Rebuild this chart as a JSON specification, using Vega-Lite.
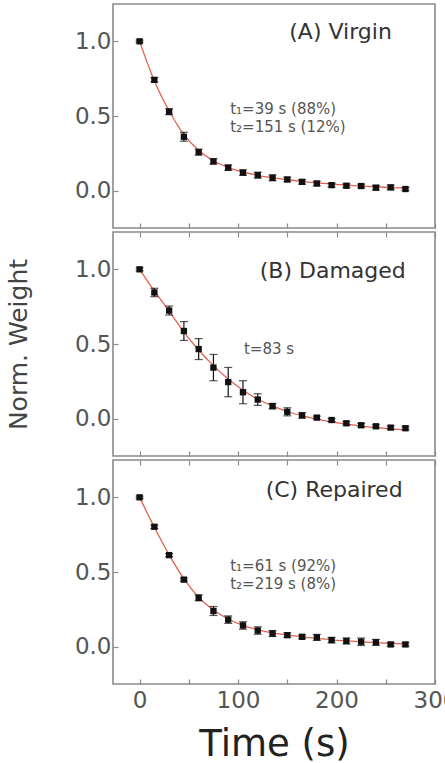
{
  "$schema": "https://vega.github.io/schema/vega-lite/v6.json",
  "background": "white",
  "padding": {"left": 5, "top": 3, "right": 10, "bottom": 0},
  "spacing": 0,
  "datasets": {
    "pts": [
      {"panel": "A", "t": 0, "w": 1.0, "lo": 0.992, "hi": 1.008},
      {"panel": "A", "t": 15, "w": 0.742, "lo": 0.727, "hi": 0.757},
      {"panel": "A", "t": 30, "w": 0.529, "lo": 0.509, "hi": 0.549},
      {"panel": "A", "t": 45, "w": 0.361, "lo": 0.331, "hi": 0.391},
      {"panel": "A", "t": 60, "w": 0.258, "lo": 0.238, "hi": 0.278},
      {"panel": "A", "t": 75, "w": 0.196, "lo": 0.178, "hi": 0.214},
      {"panel": "A", "t": 90, "w": 0.154, "lo": 0.136, "hi": 0.172},
      {"panel": "A", "t": 105, "w": 0.121, "lo": 0.103, "hi": 0.139},
      {"panel": "A", "t": 120, "w": 0.104, "lo": 0.084, "hi": 0.124},
      {"panel": "A", "t": 135, "w": 0.086, "lo": 0.066, "hi": 0.106},
      {"panel": "A", "t": 150, "w": 0.075, "lo": 0.06, "hi": 0.09},
      {"panel": "A", "t": 165, "w": 0.059, "lo": 0.044, "hi": 0.074},
      {"panel": "A", "t": 180, "w": 0.048, "lo": 0.033, "hi": 0.063},
      {"panel": "A", "t": 195, "w": 0.037, "lo": 0.025, "hi": 0.049},
      {"panel": "A", "t": 210, "w": 0.033, "lo": 0.021, "hi": 0.045},
      {"panel": "A", "t": 225, "w": 0.031, "lo": 0.019, "hi": 0.043},
      {"panel": "A", "t": 240, "w": 0.02, "lo": 0.005, "hi": 0.035},
      {"panel": "A", "t": 255, "w": 0.022, "lo": 0.007, "hi": 0.037},
      {"panel": "A", "t": 270, "w": 0.011, "lo": 0.001, "hi": 0.021},
      {"panel": "B", "t": 0, "w": 1.0, "lo": 0.99, "hi": 1.01},
      {"panel": "B", "t": 15, "w": 0.845, "lo": 0.817, "hi": 0.873},
      {"panel": "B", "t": 30, "w": 0.724, "lo": 0.694, "hi": 0.754},
      {"panel": "B", "t": 45, "w": 0.587, "lo": 0.524, "hi": 0.65},
      {"panel": "B", "t": 60, "w": 0.466, "lo": 0.396, "hi": 0.536},
      {"panel": "B", "t": 75, "w": 0.342, "lo": 0.254, "hi": 0.43},
      {"panel": "B", "t": 90, "w": 0.245, "lo": 0.147, "hi": 0.343},
      {"panel": "B", "t": 105, "w": 0.177, "lo": 0.1, "hi": 0.254},
      {"panel": "B", "t": 120, "w": 0.128, "lo": 0.089, "hi": 0.167},
      {"panel": "B", "t": 135, "w": 0.084, "lo": 0.066, "hi": 0.102},
      {"panel": "B", "t": 150, "w": 0.046, "lo": 0.019, "hi": 0.073},
      {"panel": "B", "t": 165, "w": 0.022, "lo": 0.004, "hi": 0.04},
      {"panel": "B", "t": 180, "w": 0.007, "lo": -0.003, "hi": 0.017},
      {"panel": "B", "t": 195, "w": -0.009, "lo": -0.019, "hi": 0.001},
      {"panel": "B", "t": 210, "w": -0.031, "lo": -0.043, "hi": -0.019},
      {"panel": "B", "t": 225, "w": -0.044, "lo": -0.056, "hi": -0.032},
      {"panel": "B", "t": 240, "w": -0.051, "lo": -0.061, "hi": -0.041},
      {"panel": "B", "t": 255, "w": -0.06, "lo": -0.072, "hi": -0.048},
      {"panel": "B", "t": 270, "w": -0.064, "lo": -0.074, "hi": -0.054},
      {"panel": "C", "t": 0, "w": 1.0, "lo": 0.992, "hi": 1.008},
      {"panel": "C", "t": 15, "w": 0.803, "lo": 0.791, "hi": 0.815},
      {"panel": "C", "t": 30, "w": 0.613, "lo": 0.603, "hi": 0.623},
      {"panel": "C", "t": 45, "w": 0.449, "lo": 0.439, "hi": 0.459},
      {"panel": "C", "t": 60, "w": 0.327, "lo": 0.307, "hi": 0.347},
      {"panel": "C", "t": 75, "w": 0.239, "lo": 0.209, "hi": 0.269},
      {"panel": "C", "t": 90, "w": 0.181, "lo": 0.156, "hi": 0.206},
      {"panel": "C", "t": 105, "w": 0.142, "lo": 0.117, "hi": 0.167},
      {"panel": "C", "t": 120, "w": 0.108, "lo": 0.083, "hi": 0.133},
      {"panel": "C", "t": 135, "w": 0.088, "lo": 0.068, "hi": 0.108},
      {"panel": "C", "t": 150, "w": 0.077, "lo": 0.062, "hi": 0.092},
      {"panel": "C", "t": 165, "w": 0.066, "lo": 0.054, "hi": 0.078},
      {"panel": "C", "t": 180, "w": 0.062, "lo": 0.042, "hi": 0.082},
      {"panel": "C", "t": 195, "w": 0.044, "lo": 0.026, "hi": 0.062},
      {"panel": "C", "t": 210, "w": 0.038, "lo": 0.018, "hi": 0.058},
      {"panel": "C", "t": 225, "w": 0.033, "lo": 0.008, "hi": 0.058},
      {"panel": "C", "t": 240, "w": 0.029, "lo": 0.009, "hi": 0.049},
      {"panel": "C", "t": 255, "w": 0.015, "lo": 0.003, "hi": 0.027},
      {"panel": "C", "t": 270, "w": 0.015, "lo": 0.003, "hi": 0.027}
    ],
    "fit": [
      {"panel": "A", "t": 0, "w": 1.0}, {"panel": "A", "t": 15, "w": 0.735}, {"panel": "A", "t": 30, "w": 0.535},
      {"panel": "A", "t": 45, "w": 0.375}, {"panel": "A", "t": 60, "w": 0.27}, {"panel": "A", "t": 75, "w": 0.2},
      {"panel": "A", "t": 90, "w": 0.155}, {"panel": "A", "t": 105, "w": 0.125}, {"panel": "A", "t": 120, "w": 0.103},
      {"panel": "A", "t": 135, "w": 0.087}, {"panel": "A", "t": 150, "w": 0.073}, {"panel": "A", "t": 165, "w": 0.062},
      {"panel": "A", "t": 180, "w": 0.052}, {"panel": "A", "t": 195, "w": 0.044}, {"panel": "A", "t": 210, "w": 0.037},
      {"panel": "A", "t": 225, "w": 0.031}, {"panel": "A", "t": 240, "w": 0.026}, {"panel": "A", "t": 255, "w": 0.021},
      {"panel": "A", "t": 270, "w": 0.017},
      {"panel": "B", "t": 0, "w": 1.0}, {"panel": "B", "t": 15, "w": 0.855}, {"panel": "B", "t": 30, "w": 0.72},
      {"panel": "B", "t": 45, "w": 0.58}, {"panel": "B", "t": 60, "w": 0.46}, {"panel": "B", "t": 75, "w": 0.355},
      {"panel": "B", "t": 90, "w": 0.265}, {"panel": "B", "t": 105, "w": 0.19}, {"panel": "B", "t": 120, "w": 0.13},
      {"panel": "B", "t": 135, "w": 0.085}, {"panel": "B", "t": 150, "w": 0.048}, {"panel": "B", "t": 165, "w": 0.02},
      {"panel": "B", "t": 180, "w": -0.003}, {"panel": "B", "t": 195, "w": -0.022}, {"panel": "B", "t": 210, "w": -0.037},
      {"panel": "B", "t": 225, "w": -0.05}, {"panel": "B", "t": 240, "w": -0.06}, {"panel": "B", "t": 255, "w": -0.068},
      {"panel": "B", "t": 270, "w": -0.075},
      {"panel": "C", "t": 0, "w": 1.0}, {"panel": "C", "t": 15, "w": 0.8}, {"panel": "C", "t": 30, "w": 0.615},
      {"panel": "C", "t": 45, "w": 0.455}, {"panel": "C", "t": 60, "w": 0.33}, {"panel": "C", "t": 75, "w": 0.245},
      {"panel": "C", "t": 90, "w": 0.185}, {"panel": "C", "t": 105, "w": 0.143}, {"panel": "C", "t": 120, "w": 0.113},
      {"panel": "C", "t": 135, "w": 0.092}, {"panel": "C", "t": 150, "w": 0.077}, {"panel": "C", "t": 165, "w": 0.065},
      {"panel": "C", "t": 180, "w": 0.055}, {"panel": "C", "t": 195, "w": 0.046}, {"panel": "C", "t": 210, "w": 0.039},
      {"panel": "C", "t": 225, "w": 0.033}, {"panel": "C", "t": 240, "w": 0.027}, {"panel": "C", "t": 255, "w": 0.022},
      {"panel": "C", "t": 270, "w": 0.018}
    ],
    "heads": [
      {"panel": "A", "x": 152, "y": 1.064, "text": "(A) Virgin"},
      {"panel": "B", "x": 122, "y": 0.99, "text": "(B) Damaged"},
      {"panel": "C", "x": 128, "y": 1.05, "text": "(C) Repaired"}
    ],
    "notes": [
      {"panel": "A", "x": 92, "y": 0.544, "text": "t₁=39  s (88%)"},
      {"panel": "A", "x": 92, "y": 0.423, "text": "t₂=151  s (12%)"},
      {"panel": "B", "x": 106, "y": 0.465, "text": "t=83  s"},
      {"panel": "C", "x": 92, "y": 0.54, "text": "t₁=61  s (92%)"},
      {"panel": "C", "x": 92, "y": 0.42, "text": "t₂=219  s (8%)"}
    ]
  },
  "vconcat": [
    {
      "width": 322,
      "height": 224,
      "resolve": {"axis": {"x": "independent"}},
      "layer": [
        {
          "data": {"name": "fit"},
          "transform": [{"filter": "datum.panel === 'A'"}],
          "mark": {"type": "line", "color": "#e4604f", "strokeWidth": 1.3, "interpolate": "monotone"},
          "encoding": {
            "x": {"field": "t", "type": "quantitative", "scale": {"domain": [-27, 300], "nice": false, "zero": false},
                  "axis": {"orient": "bottom", "values": [0, 50, 100, 150, 200, 250, 300], "labels": false, "title": null}},
            "y": {"field": "w", "type": "quantitative", "scale": {"domain": [-0.25, 1.25], "nice": false, "zero": false}, "title": null,
                  "axis": {"values": [0, 0.5, 1], "format": ".1f", "labelPadding": 7}}
          }
        },
        {
          "data": {"name": "pts"},
          "transform": [{"filter": "datum.panel === 'A'"}],
          "mark": {"type": "errorbar", "ticks": {"size": 8, "thickness": 1.2}, "color": "#111", "thickness": 1.2},
          "encoding": {
            "x": {"field": "t", "type": "quantitative", "axis": null},
            "y": {"field": "lo", "type": "quantitative", "title": null},
            "y2": {"field": "hi"}
          }
        },
        {
          "data": {"name": "pts"},
          "transform": [{"filter": "datum.panel === 'A'"}],
          "mark": {"type": "point", "shape": "square", "filled": true, "size": 40, "color": "#111", "opacity": 1},
          "encoding": {
            "x": {"field": "t", "type": "quantitative", "axis": null},
            "y": {"field": "w", "type": "quantitative", "title": null}
          }
        },
        {
          "data": {"name": "heads"},
          "transform": [{"filter": "datum.panel === 'A'"}],
          "mark": {"type": "text", "align": "left", "baseline": "middle", "fontSize": 22, "color": "#333"},
          "encoding": {
            "x": {"field": "x", "type": "quantitative", "axis": null},
            "y": {"field": "y", "type": "quantitative", "title": null},
            "text": {"field": "text"}
          }
        },
        {
          "data": {"name": "notes"},
          "transform": [{"filter": "datum.panel === 'A'"}],
          "mark": {"type": "text", "align": "left", "baseline": "middle", "fontSize": 15, "color": "#555"},
          "encoding": {
            "x": {"field": "x", "type": "quantitative", "axis": null},
            "y": {"field": "y", "type": "quantitative", "title": null},
            "text": {"field": "text"}
          }
        }
      ]
    },
    {
      "width": 322,
      "height": 224,
      "resolve": {"axis": {"x": "independent"}},
      "layer": [
        {
          "data": {"name": "fit"},
          "transform": [{"filter": "datum.panel === 'B'"}],
          "mark": {"type": "line", "color": "#e4604f", "strokeWidth": 1.3, "interpolate": "monotone"},
          "encoding": {
            "x": {"field": "t", "type": "quantitative", "scale": {"domain": [-27, 300], "nice": false, "zero": false},
                  "axis": {"orient": "bottom", "values": [0, 50, 100, 150, 200, 250, 300], "labels": false, "title": null}},
            "y": {"field": "w", "type": "quantitative", "scale": {"domain": [-0.25, 1.25], "nice": false, "zero": false}, "title": "Norm. Weight",
                  "axis": {"values": [0, 0.5, 1], "format": ".1f", "labelPadding": 7, "titlePadding": 43}}
          }
        },
        {
          "data": {"name": "pts"},
          "transform": [{"filter": "datum.panel === 'B'"}],
          "mark": {"type": "errorbar", "ticks": {"size": 8, "thickness": 1.2}, "color": "#111", "thickness": 1.2},
          "encoding": {
            "x": {"field": "t", "type": "quantitative", "axis": null},
            "y": {"field": "lo", "type": "quantitative", "title": "Norm. Weight"},
            "y2": {"field": "hi"}
          }
        },
        {
          "data": {"name": "pts"},
          "transform": [{"filter": "datum.panel === 'B'"}],
          "mark": {"type": "point", "shape": "square", "filled": true, "size": 40, "color": "#111", "opacity": 1},
          "encoding": {
            "x": {"field": "t", "type": "quantitative", "axis": null},
            "y": {"field": "w", "type": "quantitative", "title": "Norm. Weight"}
          }
        },
        {
          "data": {"name": "heads"},
          "transform": [{"filter": "datum.panel === 'B'"}],
          "mark": {"type": "text", "align": "left", "baseline": "middle", "fontSize": 22, "color": "#333"},
          "encoding": {
            "x": {"field": "x", "type": "quantitative",
                  "axis": {"orient": "top", "values": [0, 50, 100, 150, 200, 250, 300], "labels": false, "title": null}},
            "y": {"field": "y", "type": "quantitative", "title": "Norm. Weight"},
            "text": {"field": "text"}
          }
        },
        {
          "data": {"name": "notes"},
          "transform": [{"filter": "datum.panel === 'B'"}],
          "mark": {"type": "text", "align": "left", "baseline": "middle", "fontSize": 15, "color": "#555"},
          "encoding": {
            "x": {"field": "x", "type": "quantitative", "axis": null},
            "y": {"field": "y", "type": "quantitative", "title": "Norm. Weight"},
            "text": {"field": "text"}
          }
        }
      ]
    },
    {
      "width": 322,
      "height": 224,
      "resolve": {"axis": {"x": "independent"}},
      "layer": [
        {
          "data": {"name": "fit"},
          "transform": [{"filter": "datum.panel === 'C'"}],
          "mark": {"type": "line", "color": "#e4604f", "strokeWidth": 1.3, "interpolate": "monotone"},
          "encoding": {
            "x": {"field": "t", "type": "quantitative", "scale": {"domain": [-27, 300], "nice": false, "zero": false},
                  "axis": {"orient": "bottom", "values": [0, 50, 100, 150, 200, 250, 300],
                           "labelExpr": "datum.value % 100 === 0 ? datum.label : ''", "labelFlush": false, "labelPadding": 10,
                           "title": "Time (s)", "titleFontSize": 37, "titleColor": "#222", "titlePadding": 14}},
            "y": {"field": "w", "type": "quantitative", "scale": {"domain": [-0.25, 1.25], "nice": false, "zero": false}, "title": null,
                  "axis": {"values": [0, 0.5, 1], "format": ".1f", "labelPadding": 7}}
          }
        },
        {
          "data": {"name": "pts"},
          "transform": [{"filter": "datum.panel === 'C'"}],
          "mark": {"type": "errorbar", "ticks": {"size": 8, "thickness": 1.2}, "color": "#111", "thickness": 1.2},
          "encoding": {
            "x": {"field": "t", "type": "quantitative", "axis": null},
            "y": {"field": "lo", "type": "quantitative", "title": null},
            "y2": {"field": "hi"}
          }
        },
        {
          "data": {"name": "pts"},
          "transform": [{"filter": "datum.panel === 'C'"}],
          "mark": {"type": "point", "shape": "square", "filled": true, "size": 40, "color": "#111", "opacity": 1},
          "encoding": {
            "x": {"field": "t", "type": "quantitative", "axis": null},
            "y": {"field": "w", "type": "quantitative", "title": null}
          }
        },
        {
          "data": {"name": "heads"},
          "transform": [{"filter": "datum.panel === 'C'"}],
          "mark": {"type": "text", "align": "left", "baseline": "middle", "fontSize": 22, "color": "#333"},
          "encoding": {
            "x": {"field": "x", "type": "quantitative",
                  "axis": {"orient": "top", "values": [0, 50, 100, 150, 200, 250, 300], "labels": false, "title": null}},
            "y": {"field": "y", "type": "quantitative", "title": null},
            "text": {"field": "text"}
          }
        },
        {
          "data": {"name": "notes"},
          "transform": [{"filter": "datum.panel === 'C'"}],
          "mark": {"type": "text", "align": "left", "baseline": "middle", "fontSize": 15, "color": "#555"},
          "encoding": {
            "x": {"field": "x", "type": "quantitative", "axis": null},
            "y": {"field": "y", "type": "quantitative", "title": null},
            "text": {"field": "text"}
          }
        }
      ]
    }
  ],
  "config": {
    "font": "DejaVu Sans",
    "view": {"stroke": "#8a8a8a", "strokeWidth": 1.6},
    "axis": {
      "grid": false,
      "domain": false,
      "tickColor": "#8a8a8a",
      "tickWidth": 1.2,
      "tickSize": -5,
      "labelPadding": 6,
      "labelFont": "DejaVu Sans",
      "labelFontSize": 23,
      "labelColor": "#555",
      "titleFont": "DejaVu Sans",
      "titleFontWeight": "normal",
      "titleFontSize": 25,
      "titleColor": "#444",
      "titlePadding": 14
    }
  }
}
